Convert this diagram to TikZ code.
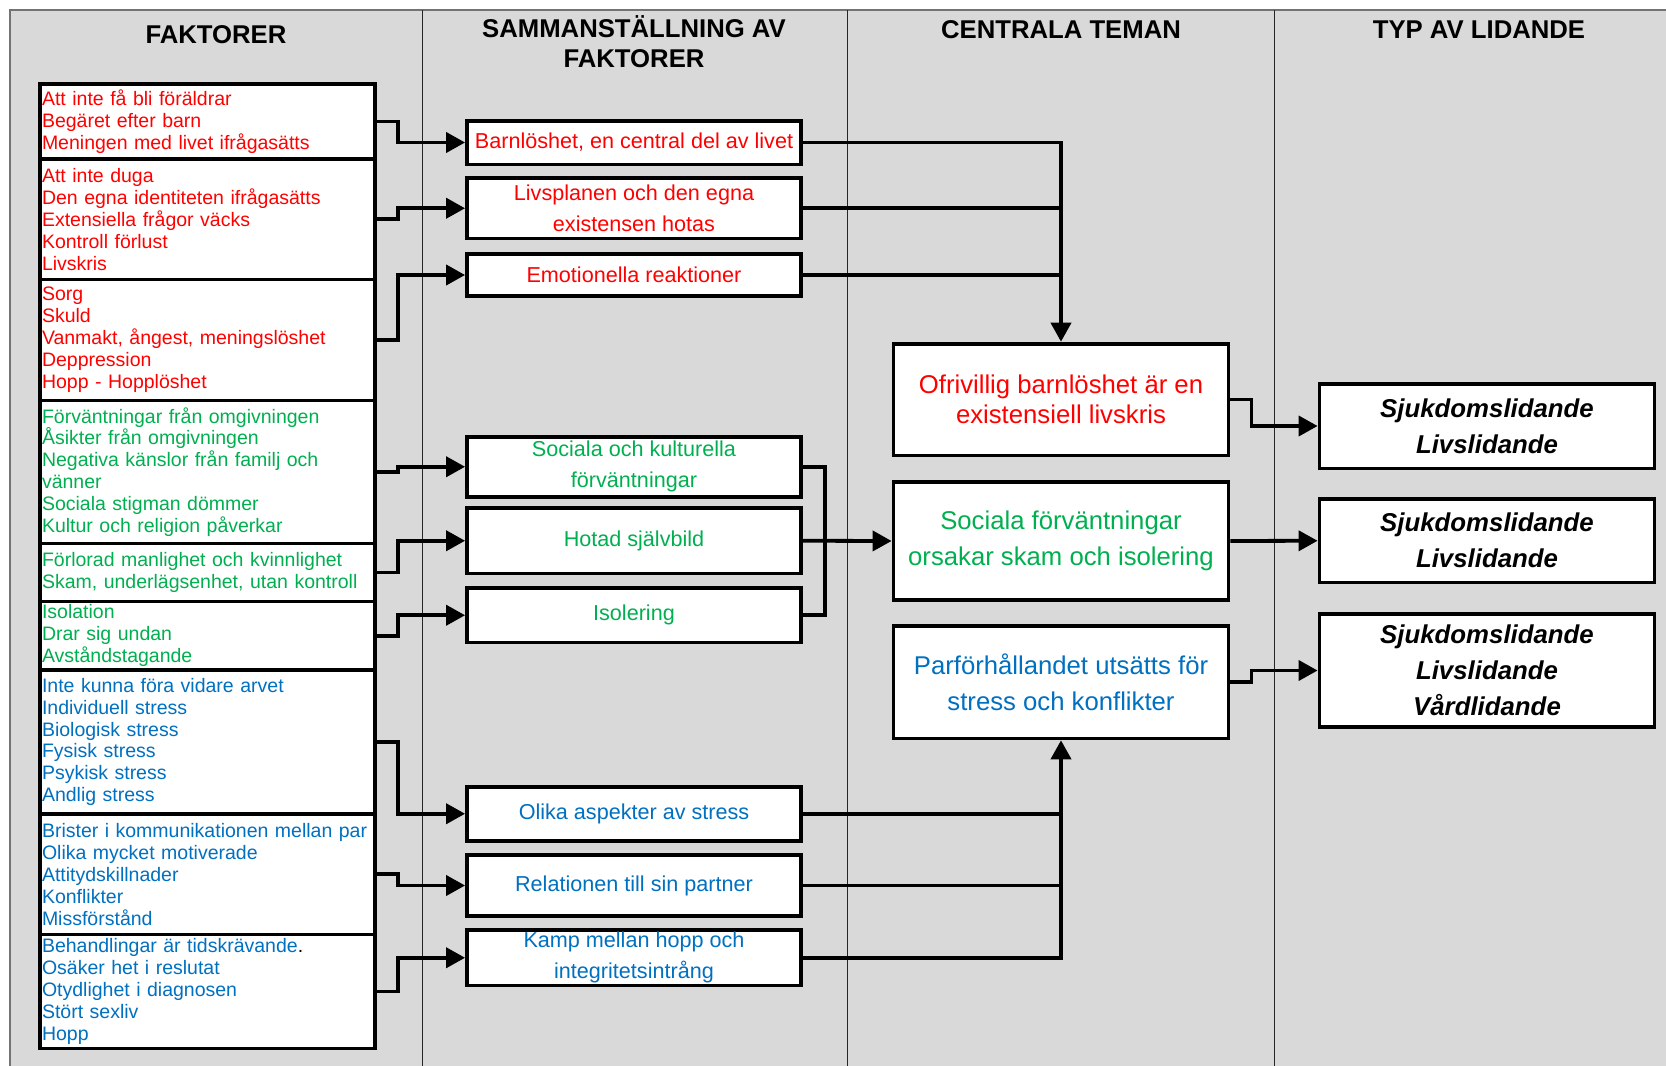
\documentclass[tikz,border=0pt]{standalone}
\usepackage{fontspec}
\setmainfont{Liberation Sans}
\usepackage{tikz}
\usetikzlibrary{arrows.meta}

\definecolor{panelGray}{RGB}{217,217,217}
\definecolor{factorRed}{RGB}{255,0,0}
\definecolor{factorGreen}{RGB}{0,176,80}
\definecolor{factorBlue}{RGB}{0,112,192}

\begin{document}
\begin{tikzpicture}[
        x=0.5pt,
        y=-0.5pt,
        factorBox/.style={
            rectangle,
            draw=black,
            fill=white,
            line width=1.9pt,
            minimum width=167.5pt,
            text width=165.5pt,
            inner xsep=1pt,
            inner ysep=0pt,
            align=left,
            font=\fontsize{9.75}{10.95}\selectfont
        },
        summaryBox/.style={
            rectangle,
            draw=black,
            fill=white,
            line width=1.9pt,
            minimum width=167pt,
            inner sep=0pt,
            align=center,
            font=\fontsize{10.8}{15.4}\selectfont
        },
        themeBox/.style={
            rectangle,
            draw=black,
            fill=white,
            line width=1.9pt,
            minimum width=167.5pt,
            inner sep=0pt,
            align=center,
            font=\fontsize{12.85}{18}\selectfont
        },
        sufferBox/.style={
            rectangle,
            draw=black,
            fill=white,
            line width=1.9pt,
            minimum width=167.5pt,
            inner sep=0pt,
            align=center,
            font=\fontsize{12.9}{18}\selectfont\bfseries\itshape
        },
        headerText/.style={
            align=center,
            inner sep=0pt,
            font=\fontsize{12.85}{15}\selectfont\bfseries
        },
        dividerLine/.style={
            draw=black!85,
            line width=0.5pt
        },
        flowLine/.style={
            line width=1.9pt
        },
        flowArrow/.style={
            -{Triangle[length=9.5pt,width=10pt]},
            line width=1.9pt
        }
    ]

        \useasboundingbox (0,0) rectangle (1666,1066);

        % Background panel and columns
        \fill[panelGray] (10,10) rectangle (1666,1066);
        \draw[black!55, line width=0.7pt] (10,1066) -- (10,10) -- (1666,10);
        \foreach \colX in {422,847,1274}
            \draw[dividerLine] (\colX,10) -- (\colX,1066);

        % Column headers
        \node[headerText, anchor=base] (h1) at (216,43) {FAKTORER};
        \node[headerText, anchor=base] (h2) at (634,67) {SAMMANSTÄLLNING AV\\FAKTORER};
        \node[headerText, anchor=base] (h3) at (1061,38) {CENTRALA TEMAN};
        \node[headerText, anchor=base] (h4) at (1479,38) {TYP AV LIDANDE};

        % Factors
        \node[factorBox, text=factorRed, minimum height=37.5pt] (f1) at (207.5,121.5) {
            Att inte få bli föräldrar\\
            Begäret efter barn\\
            Meningen med livet ifrågasätts
        };
        \node[factorBox, text=factorRed, minimum height=60.25pt] (f2) at (207.5,219.25) {
            Att inte duga\\
            Den egna identiteten ifrågasätts\\
            Extensiella frågor väcks\\
            Kontroll förlust\\
            Livskris
        };
        \node[factorBox, text=factorRed, minimum height=60.5pt] (f3) at (207.5,340) {
            Sorg\\
            Skuld\\
            Vanmakt, ångest, meningslöshet\\
            Deppression\\
            Hopp - Hopplöshet
        };
        \node[factorBox, text=factorGreen, minimum height=71.5pt] (f4) at (207.5,472) {
            Förväntningar från omgivningen\\
            Åsikter från omgivningen\\
            Negativa känslor från familj och\\
            vänner\\
            Sociala stigman dömmer\\
            Kultur och religion påverkar
        };
        \node[factorBox, text=factorGreen, minimum height=29pt] (f5) at (207.5,572.5) {
            Förlorad manlighet och kvinnlighet\\
            Skam, underlägsenhet, utan kontroll
        };
        \node[factorBox, text=factorGreen, minimum height=34.25pt] (f6) at (207.5,635.75) {
            Isolation\\
            Drar sig undan\\
            Avståndstagande
        };
        \node[factorBox, text=factorBlue, minimum height=72pt] (f7) at (207.5,742) {
            Inte kunna föra vidare arvet\\
            Individuell stress\\
            Biologisk stress\\
            Fysisk stress\\
            Psykisk stress\\
            Andlig stress
        };
        \node[factorBox, text=factorBlue, minimum height=60.25pt] (f8) at (207.5,874.25) {
            Brister i kommunikationen mellan par\\
            Olika mycket motiverade\\
            Attitydskillnader\\
            Konflikter\\
            Missförstånd
        };
        \node[factorBox, text=factorBlue, minimum height=57pt] (f9) at (207.5,991.5) {
            Behandlingar är tidskrävande{\color{black}.}\\
            Osäker het i reslutat\\
            Otydlighet i diagnosen\\
            Stört sexliv\\
            Hopp
        };

        % Summaries of factors
        \node[summaryBox, text=factorRed, minimum height=21.9pt] (s1) at (634,142.5)
            {Barnlöshet, en central del av livet};
        \node[summaryBox, text=factorRed, minimum height=30.15pt] (s2) at (634,208.25)
            {Livsplanen och den egna\\existensen hotas};
        \node[summaryBox, text=factorRed, minimum height=21.15pt] (s3) at (634,275)
            {Emotionella reaktioner};
        \node[summaryBox, text=factorGreen, minimum height=30.15pt] (s4) at (634,466.75)
            {Sociala och kulturella\\förväntningar};
        \node[summaryBox, text=factorGreen, minimum height=32.65pt] (s5) at (634,540.75)
            {Hotad självbild};
        \node[summaryBox, text=factorGreen, minimum height=27.15pt] (s6) at (634,615.25)
            {Isolering};
        \node[summaryBox, text=factorBlue, minimum height=27.15pt] (s7) at (634,813.75)
            {Olika aspekter av stress};
        \node[summaryBox, text=factorBlue, minimum height=30.4pt] (s8) at (634,885.5)
            {Relationen till sin partner};
        \node[summaryBox, text=factorBlue, minimum height=27.65pt] (s9) at (634,957.75)
            {Kamp mellan hopp och\\integritetsintrång};

        % Central themes
        \node[themeBox, text=factorRed, minimum height=55.9pt,
              font=\fontsize{12.85}{15}\selectfont] (t1) at (1061,399.5)
            {Ofrivillig barnlöshet är en\\existensiell livskris};
        \node[themeBox, text=factorGreen, minimum height=58.9pt] (t2) at (1061,541)
            {Sociala förväntningar\\orsakar skam och isolering};
        \node[themeBox, text=factorBlue, minimum height=56.15pt] (t3) at (1061,682.25)
            {Parförhållandet utsätts för\\stress och konflikter};

        % Types of suffering
        \node[sufferBox, minimum height=42.4pt] (r1) at (1487,426)
            {Sjukdomslidande\\Livslidande};
        \node[sufferBox, minimum height=41.65pt] (r2) at (1487,540.75)
            {Sjukdomslidande\\Livslidande};
        \node[sufferBox, minimum height=56.4pt] (r3) at (1487,670.5)
            {Sjukdomslidande\\Livslidande\\Vårdlidande};

        % Factors to summaries
        \foreach \i in {1,...,9}
            \draw[flowArrow] (f\i.east) -- ++(21,0) |- (s\i.west);

        % Summaries to themes
        \draw[flowArrow] (s1.east) -| (t1.north);
        \draw[flowLine] (s2.east) -- (s2.east -| t1.north);
        \draw[flowLine] (s3.east) -- (s3.east -| t1.north);

        \draw[flowLine] (s4.east) -- ++(22,0) |- (s6.east);
        \draw[flowArrow] (s5.east) -- (t2.west);

        \draw[flowArrow] (s9.east) -| (t3.south);
        \draw[flowLine] (s7.east) -- (s7.east -| t3.south);
        \draw[flowLine] (s8.east) -- (s8.east -| t3.south);

        % Themes to types of suffering
        \draw[flowArrow] (t1.east) -- ++(21,0) |- (r1.west);
        \draw[flowArrow] (t2.east) -- (r2.west);
        \draw[flowArrow] (t3.east) -- ++(21,0) |- (r3.west);

\end{tikzpicture}
\end{document}
